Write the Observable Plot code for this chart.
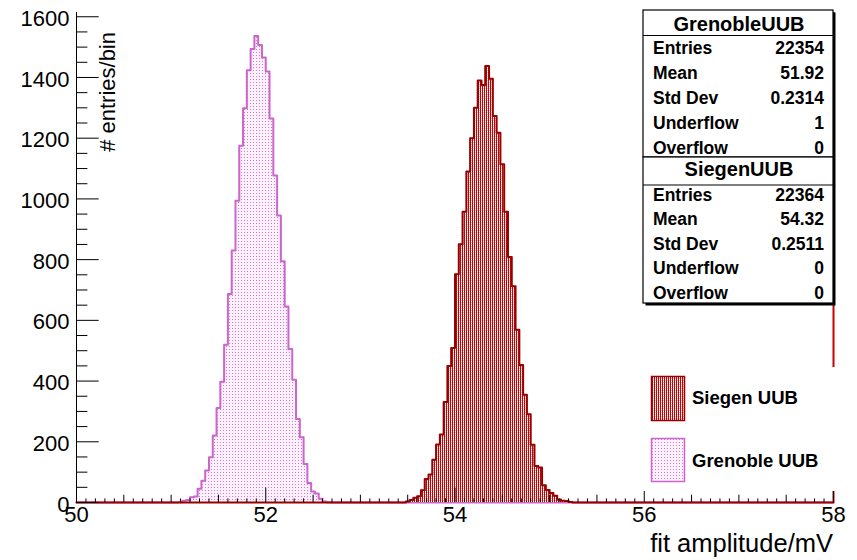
<!DOCTYPE html>
<html><head><meta charset="utf-8">
<script src="https://cdn.jsdelivr.net/npm/d3@7"></script>
<script src="https://cdn.jsdelivr.net/npm/@observablehq/plot@0.6"></script>
<style>body{margin:0;background:#fff} svg{display:block}</style>
</head><body><div id="chart"></div>
<script>
// ---- data ----
const binWidth = 0.04;
const grenobleFirstEdge = 51.08;
const grenobleCounts = [1, 6, 8, 17, 20, 45, 72, 105, 149, 221, 311, 398, 520, 687, 830, 994, 1175, 1299, 1424, 1494,
  1537, 1507, 1466, 1420, 1265, 1077, 945, 795, 646, 506, 404, 275, 215, 127, 64, 36, 30, 12, 3, 1];
const siegenFirstEdge = 53.48;
const siegenCounts = [3, 8, 16, 21, 40, 77, 92, 141, 191, 224, 331, 450, 509, 752, 851, 958, 1090, 1200, 1300, 1390,
  1375, 1438, 1396, 1273, 1218, 1114, 958, 809, 712, 569, 453, 355, 291, 190, 120, 115, 57, 41, 31, 22, 10, 6, 5, 2];
const xTickLabels = [50, 52, 54, 56, 58];
const yTickLabels = [0, 200, 400, 600, 800, 1000, 1200, 1400, 1600];
const xMediumTicks = [50.5, 51, 51.5, 52.5, 53, 53.5, 54.5, 55, 55.5, 56.5, 57, 57.5];
const xMinorTicks = d3.range(501, 580).map(v => v / 10).filter(v => Math.round(v * 10) % 5 !== 0);
const yMinorTicks = d3.range(50, 1614, 50).filter(v => v % 200 !== 0);
const statLabels = ["Entries", "Mean", "Std Dev", "Underflow", "Overflow"];
const grenobleStats = ["22354", "51.92", "0.2314", "1", "0"];
const siegenStats = ["22364", "54.32", "0.2511", "0", "0"];
const legendLabels = ["Siegen UUB", "Grenoble UUB"];

function outline(first, counts) {
  const pts = [{x: 50, y: 0}];
  counts.forEach((c, i) => pts.push({x: +(first + i * binWidth).toFixed(4), y: c}));
  pts.push({x: +(first + counts.length * binWidth).toFixed(4), y: 0});
  pts.push({x: 58, y: 0});
  return pts;
}
const gren = outline(grenobleFirstEdge, grenobleCounts);
const sieg = outline(siegenFirstEdge, siegenCounts);

const FONT = "'Liberation Sans', Arial, Helvetica, sans-serif";
const svg = Plot.plot({
  width: 857, height: 560,
  marginLeft: 76, marginRight: 24, marginTop: 12, marginBottom: 58,
  x: {domain: [50, 58], axis: null},
  y: {domain: [0, 1614], axis: null},
  style: {fontFamily: FONT, background: "white", overflow: "visible"},
  marks: [
    Plot.ruleY([0], {stroke: "black"}),
    Plot.ruleX([50], {stroke: "black"}),
    Plot.areaY(gren, {x: "x", y: "y", curve: "step-after", fill: "url(#pGren)"}),
    Plot.line(gren, {x: "x", y: "y", curve: "step-after", stroke: "#cc66cc", strokeWidth: 2}),
    Plot.areaY(sieg, {x: "x", y: "y", curve: "step-after", fill: "url(#pSieg)"}),
    Plot.line(sieg, {x: "x", y: "y", curve: "step-after", stroke: "#990000", strokeWidth: 2}),
    Plot.ruleX([58], {stroke: "#cc0000", strokeWidth: 2}),
    // x ticks (inward)
    Plot.ruleX(xTickLabels, {x: d => d, y1: 0, y2: 0, insetTop: -14.5, stroke: "black"}),
    Plot.ruleX(xMediumTicks, {x: d => d, y1: 0, y2: 0, insetTop: -7.3, stroke: "black"}),
    Plot.ruleX(xMinorTicks, {x: d => d, y1: 0, y2: 0, insetTop: -3.6, stroke: "black"}),
    // y ticks (inward)
    Plot.ruleY(yTickLabels, {y: d => d, x1: 50, x2: 50, insetRight: -22.7, stroke: "black"}),
    Plot.ruleY(yMinorTicks, {y: d => d, x1: 50, x2: 50, insetRight: -11.4, stroke: "black"}),
    // tick labels
    Plot.text(xTickLabels, {x: d => d, y: 0, text: d => String(d), lineAnchor: "top", dy: 4, fontSize: 22, fill: "black"}),
    Plot.text(yTickLabels, {x: 50, y: d => d, text: d => String(d), textAnchor: "end", lineAnchor: "middle", dx: -7, dy: 2, fontSize: 22, fill: "black"})
  ]
});
document.getElementById("chart").appendChild(svg);

const s = d3.select(svg);
const defs = s.insert("defs", ":first-child");
const pS = defs.append("pattern").attr("id", "pSieg").attr("patternUnits", "userSpaceOnUse").attr("width", 2).attr("height", 2);
pS.append("rect").attr("width", 2).attr("height", 2).attr("fill", "#ac0c0c").attr("shape-rendering", "crispEdges");
pS.append("rect").attr("x", 1).attr("y", 1).attr("width", 1).attr("height", 1).attr("fill", "#ffffff").attr("shape-rendering", "crispEdges");
pS.append("rect").attr("x", 1).attr("y", 0).attr("width", 1).attr("height", 1).attr("fill", "#eab4b4").attr("shape-rendering", "crispEdges");
const pG = defs.append("pattern").attr("id", "pGren").attr("patternUnits", "userSpaceOnUse").attr("width", 3).attr("height", 3);
pG.append("rect").attr("width", 3).attr("height", 3).attr("fill", "#fcf1fc").attr("shape-rendering", "crispEdges");
pG.append("rect").attr("x", 1).attr("y", 1).attr("width", 1).attr("height", 1).attr("fill", "#d27ad2").attr("shape-rendering", "crispEdges");

// axis titles
s.append("text").attr("x", 833).attr("y", 552).attr("text-anchor", "end")
  .attr("font-family", FONT).attr("font-size", 25.5).attr("fill", "black").text("fit amplitude/mV");
s.append("text").attr("transform", "translate(115,32) rotate(-90)").attr("text-anchor", "end")
  .attr("font-family", FONT).attr("font-size", 22).attr("fill", "black").text("# entries/bin");

// stats boxes
const g = s.append("g").attr("font-family", FONT).attr("font-weight", "bold").attr("text-anchor", "start");
g.append("rect").attr("x", 645.5).attr("y", 12.5).attr("width", 190).attr("height", 293).attr("fill", "black");
function statsBox(top, h, sep, title, titleBase, vals, bases) {
  g.append("rect").attr("x", 643).attr("y", top).attr("width", 190).attr("height", h)
    .attr("fill", "white").attr("stroke", "black").attr("stroke-width", 1.2);
  g.append("line").attr("x1", 643).attr("x2", 833).attr("y1", sep).attr("y2", sep).attr("stroke", "black").attr("stroke-width", 1.2);
  g.append("text").attr("x", 739).attr("y", titleBase).attr("text-anchor", "middle").attr("font-size", 20).text(title);
  statLabels.forEach((l, i) => {
    g.append("text").attr("x", 653).attr("y", bases[i]).attr("text-anchor", "start").attr("font-size", 17.5).text(l);
    g.append("text").attr("x", 824).attr("y", bases[i]).attr("text-anchor", "end").attr("font-size", 17.5).text(vals[i]);
  });
}
statsBox(10, 147, 35.5, "GrenobleUUB", 31, grenobleStats, [53.5, 79, 103.5, 128.5, 153.5]);
statsBox(157, 146, 185, "SiegenUUB", 176, siegenStats, [200.5, 225, 249.5, 274, 298.5]);

// legend
const lg = s.append("g").attr("font-family", FONT).attr("font-weight", "bold").attr("text-anchor", "start");
lg.append("rect").attr("x", 640).attr("y", 367).attr("width", 196).attr("height", 124).attr("fill", "white");
lg.append("rect").attr("x", 651.5).attr("y", 376.5).attr("width", 33).attr("height", 44)
  .attr("fill", "url(#pSieg)").attr("stroke", "#990000").attr("stroke-width", 1.5);
lg.append("rect").attr("x", 651.5).attr("y", 438.5).attr("width", 33).attr("height", 43)
  .attr("fill", "url(#pGren)").attr("stroke", "#cc66cc").attr("stroke-width", 1.5);
lg.append("text").attr("x", 692).attr("y", 404).attr("font-size", 18.5).text(legendLabels[0]);
lg.append("text").attr("x", 692).attr("y", 467).attr("font-size", 18.5).text(legendLabels[1]);
</script>
</body></html>
